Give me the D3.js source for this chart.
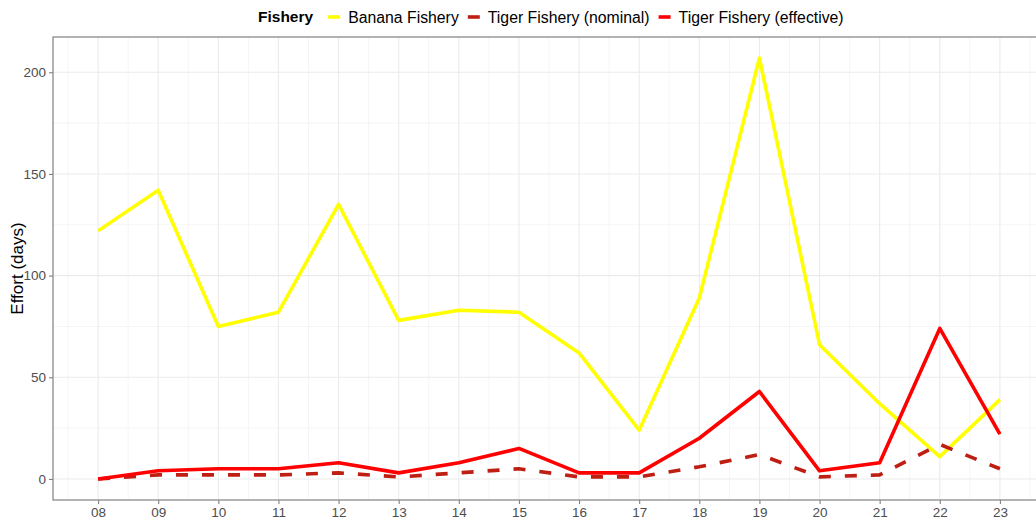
<!DOCTYPE html>
<html lang="en">
<head>
  <meta charset="UTF-8" />
  <title>Fishery effort</title>
  <style>
    html, body { margin: 0; padding: 0; background: #fff; }
    svg { display: block; font-family: "Liberation Sans", Arial, sans-serif; }
  </style>
</head>
<body>
  <svg id="chart"></svg>

  <script src="https://d3js.org/d3.v7.min.js"></script>
  <script>
    // data
    const years = [8, 9, 10, 11, 12, 13, 14, 15, 16, 17, 18, 19, 20, 21, 22, 23];
    const yearLabels = ["08", "09", "10", "11", "12", "13", "14", "15", "16", "17", "18", "19", "20", "21", "22", "23"];
    const banana = [122, 142, 75, 82, 135, 78, 83, 82, 62, 24, 89, 207, 66, 37, 11, 39];
    const tigerNominal = [0, 2, 2, 2, 3, 1, 3, 5, 1, 1, 6, 12, 1, 2, 17, 5];
    const tigerEffective = [0, 4, 5, 5, 8, 3, 8, 15, 3, 3, 20, 43, 4, 8, 74, 22];
    const yTicks = [0, 50, 100, 150, 200];
    const yMinor = [25, 75, 125, 175];

    const series = [
      { name: "Banana Fishery", values: banana, color: "#FFFF00", dash: null },
      { name: "Tiger Fishery (nominal)", values: tigerNominal, color: "#BF1E13", dash: "12,14" },
      { name: "Tiger Fishery (effective)", values: tigerEffective, color: "#FF0000", dash: null }
    ];

    const W = 1036, H = 520;
    const pL = 53, pT = 37, pR = 1045, pB = 500;

    const svg = d3.select("#chart").attr("width", W).attr("height", H);

    const x = d3.scaleLinear().domain([7.25, 23.75]).range([pL, pR]);
    const y = d3.scaleLinear().domain([-10.35, 217.35]).range([pB, pT]);

    svg.append("clipPath").attr("id", "panel")
      .append("rect").attr("x", pL).attr("y", pT)
      .attr("width", pR - pL).attr("height", pB - pT);

    const grid = svg.append("g");
    // minor grid
    grid.append("g").selectAll("line")
      .data(d3.range(7.5, 24, 1))
      .join("line")
      .attr("x1", d => x(d)).attr("x2", d => x(d))
      .attr("y1", pT).attr("y2", pB)
      .attr("stroke", "#F2F2F2").attr("stroke-width", 0.8);
    grid.append("g").selectAll("line")
      .data(yMinor)
      .join("line")
      .attr("x1", pL).attr("x2", pR)
      .attr("y1", d => y(d)).attr("y2", d => y(d))
      .attr("stroke", "#F2F2F2").attr("stroke-width", 0.8);
    // major grid
    grid.append("g").selectAll("line")
      .data(years)
      .join("line")
      .attr("x1", d => x(d)).attr("x2", d => x(d))
      .attr("y1", pT).attr("y2", pB)
      .attr("stroke", "#EBEBEB").attr("stroke-width", 1.1);
    grid.append("g").selectAll("line")
      .data(yTicks)
      .join("line")
      .attr("x1", pL).attr("x2", pR)
      .attr("y1", d => y(d)).attr("y2", d => y(d))
      .attr("stroke", "#EBEBEB").attr("stroke-width", 1.1);

    // lines
    const line = d3.line()
      .x((d, i) => x(years[i]))
      .y(d => y(d));

    svg.append("g").attr("clip-path", "url(#panel)")
      .selectAll("path")
      .data(series)
      .join("path")
      .attr("d", d => line(d.values))
      .attr("fill", "none")
      .attr("stroke", d => d.color)
      .attr("stroke-width", 3.6)
      .attr("stroke-linejoin", "round")
      .attr("stroke-dasharray", d => d.dash);

    // panel border
    svg.append("rect")
      .attr("x", pL).attr("y", pT)
      .attr("width", pR - pL).attr("height", pB - pT)
      .attr("fill", "none").attr("stroke", "#808080").attr("stroke-width", 1.2);

    // axes
    const xAxis = d3.axisBottom(x).tickValues(years)
      .tickFormat((d, i) => yearLabels[i]).tickSize(4).tickPadding(3);
    const yAxis = d3.axisLeft(y).tickValues(yTicks).tickSize(4).tickPadding(3);

    const gx = svg.append("g").attr("transform", `translate(0,${pB})`).call(xAxis);
    const gy = svg.append("g").attr("transform", `translate(${pL},0)`).call(yAxis);
    [gx, gy].forEach(g => {
      g.select(".domain").remove();
      g.selectAll(".tick line").attr("stroke", "#808080").attr("stroke-width", 1.1);
      g.selectAll(".tick text")
        .attr("fill", "#4D4D4D")
        .style("font-size", "13.5px")
        .style("font-family", "'Liberation Sans', Arial, sans-serif");
    });

    // y axis title
    svg.append("text")
      .attr("transform", `translate(23,${(pT + pB) / 2}) rotate(-90)`)
      .attr("text-anchor", "middle")
      .style("font-size", "17px")
      .attr("fill", "#000")
      .text("Effort (days)");

    // legend
    const legend = svg.append("g").attr("transform", "translate(0,17)");
    let lx = 258;
    const title = legend.append("text")
      .attr("x", lx).attr("dy", "0.35em")
      .style("font-size", "15.5px").style("font-weight", "bold")
      .text("Fishery");
    lx += title.node().getComputedTextLength() + 15;
    series.forEach(s => {
      legend.append("line")
        .attr("x1", lx).attr("x2", lx + 12)
        .attr("y1", 0).attr("y2", 0)
        .attr("stroke", s.color).attr("stroke-width", 3.6);
      lx += 20;
      const t = legend.append("text")
        .attr("x", lx).attr("dy", "0.35em")
        .style("font-size", "15.8px")
        .text(s.name);
      lx += t.node().getComputedTextLength() + 9;
    });
  </script>
</body>
</html>
